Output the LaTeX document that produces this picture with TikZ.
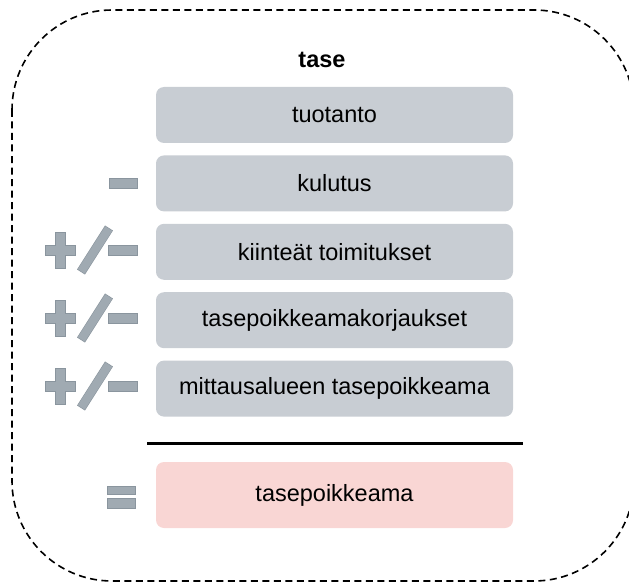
\documentclass[tikz,border=0pt]{standalone}
\usepackage{fontspec}
\setmainfont{Liberation Sans}
\usepackage{tikz}
\usetikzlibrary{positioning}
\definecolor{boxgray}{HTML}{C8CDD3}
\definecolor{boxpink}{HTML}{F9D6D4}
\definecolor{signfill}{HTML}{A0AAB2}
\definecolor{signedge}{HTML}{8A959E}
\tikzstyle{item} = [rectangle, rounded corners=8pt, minimum width=357pt, minimum height=56pt, text centered, fill=boxgray, text=black, font=\fontsize{23.5}{28}\selectfont]
\tikzstyle{sign} = [fill=signfill, draw=signedge, line width=0.6pt]
\tikzstyle{frame} = [dash pattern=on 7pt off 4.5pt, line width=1.6pt, rounded corners=100pt]

\begin{document}
\begin{tikzpicture}[x=1pt, y=-1pt]
    \useasboundingbox (0,0) rectangle (629,583);

    % Outer frame
    \draw [frame] (12,10) rectangle (634,581);

    % Title
    \node (title) at (322,60) [font=\bfseries\fontsize{23.5}{28}\selectfont] {tase};

    % Balance items
    \node (tuot) at (334.5,115) [item] {tuotanto};
    \node (kulu) [item, below=12pt of tuot] {kulutus};
    \node (kiint) [item, below=12pt of kulu] {kiinteät toimitukset};
    \node (korj) [item, below=12pt of kiint] {tasepoikkeamakorjaukset};
    \node (mitt) [item, below=12pt of korj] {mittausalueen tasepoikkeama};

    % Sum line
    \draw [line width=3pt] (147,443) -- (523,443);

    % Result
    \node (tulos) at (334.5,495) [item, fill=boxpink, minimum height=66pt] {tasepoikkeama};

    % Signs
    \draw [sign] (109,178) rectangle (137,188);
    \foreach \yy in {250,318,386} {
        \draw [sign] (45,\yy-5) -- (55,\yy-5) -- (55,\yy-18) -- (65,\yy-18) -- (65,\yy-5) -- (75,\yy-5)
            -- (75,\yy+5) -- (65,\yy+5) -- (65,\yy+18) -- (55,\yy+18) -- (55,\yy+5) -- (45,\yy+5) -- cycle;
        \draw [signedge, line width=9.4pt] (81,\yy+22) -- (109,\yy-22);
        \draw [signfill, line width=8.2pt] (81.3,\yy+21.4) -- (108.7,\yy-21.4);
        \draw [sign] (108,\yy-5) rectangle (137,\yy+5);
    }
    \draw [sign] (107,486) rectangle (135,494);
    \draw [sign] (107,498) rectangle (135,508);

\end{tikzpicture}
\end{document}
